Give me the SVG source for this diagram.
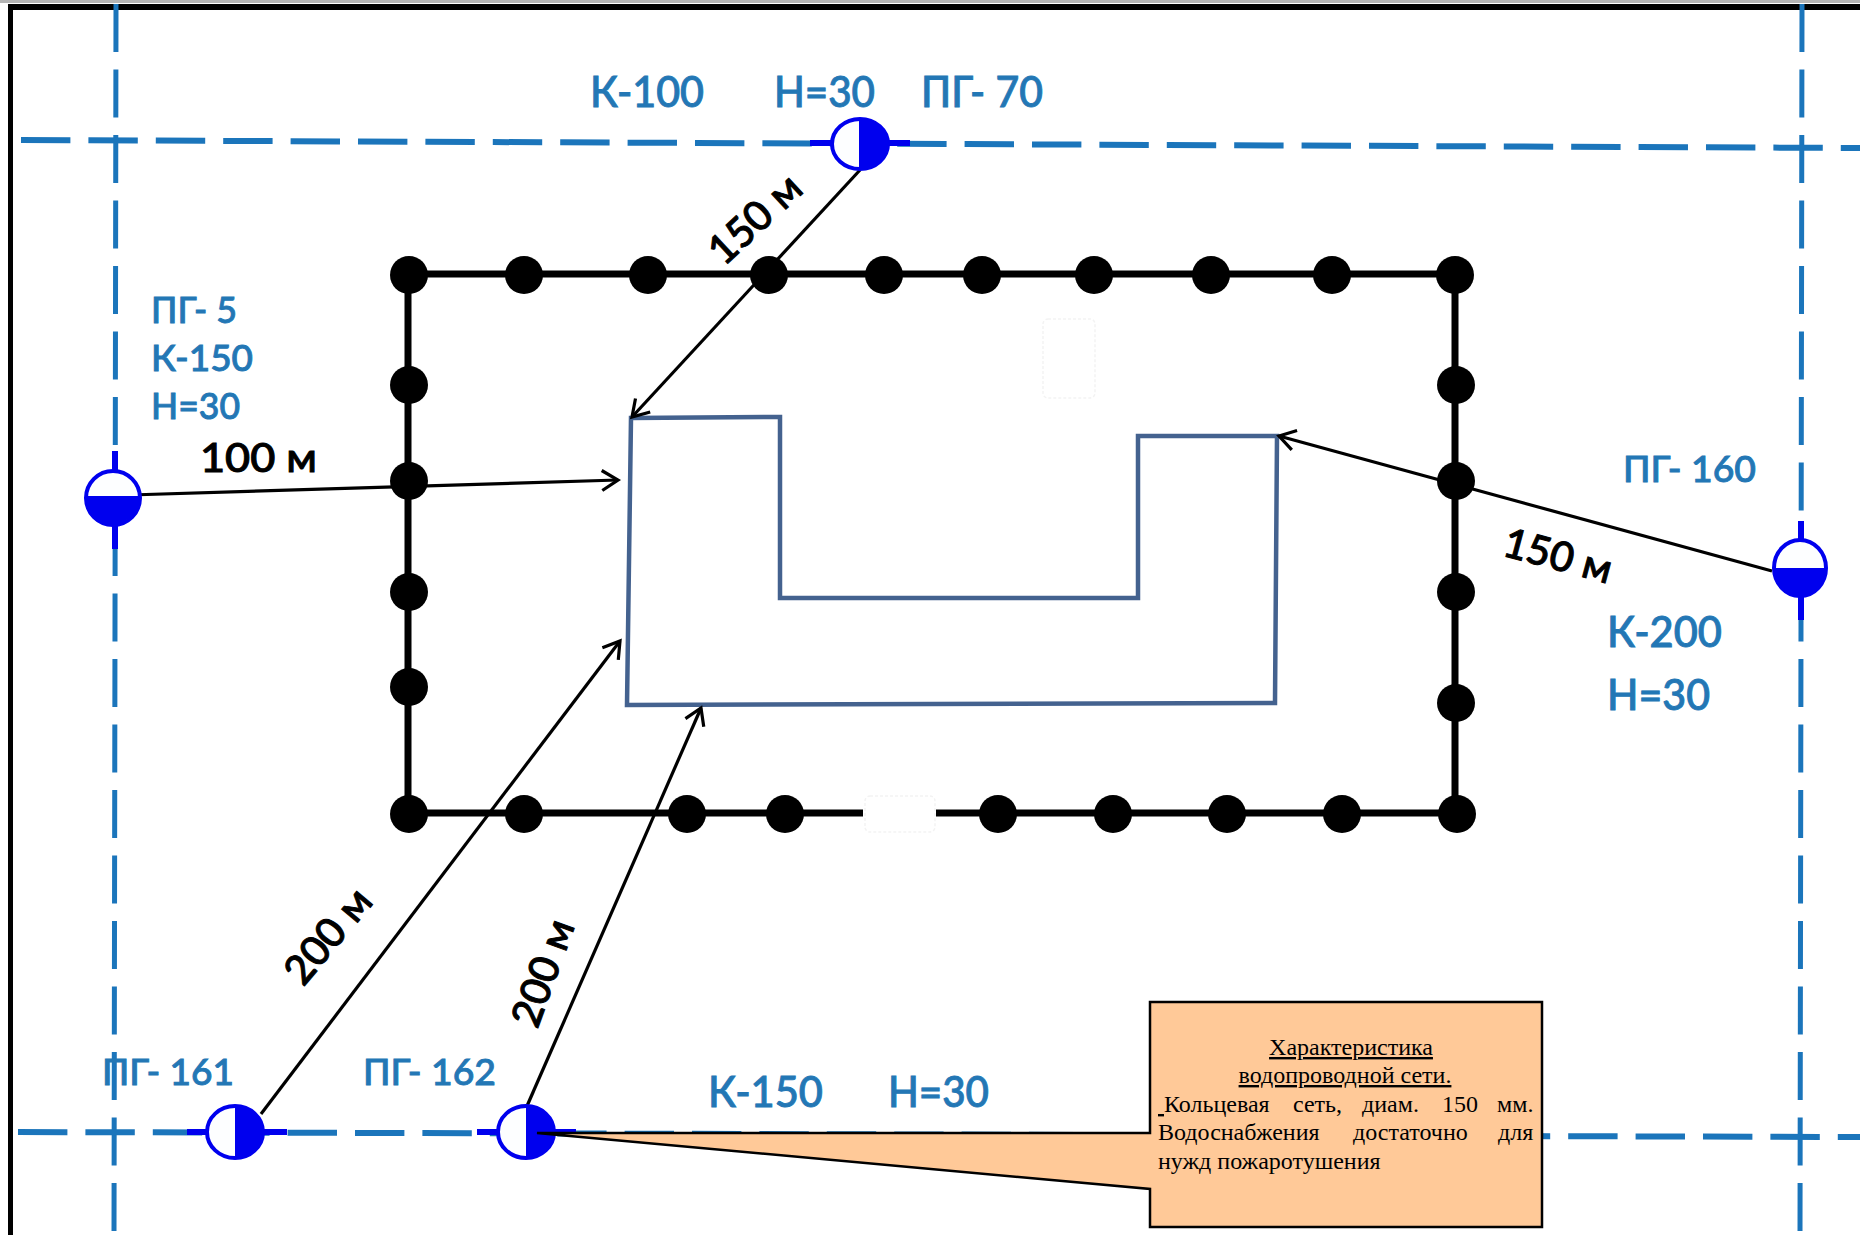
<svg xmlns="http://www.w3.org/2000/svg" width="1860" height="1235" viewBox="0 0 1860 1235">
<style>
.dash{fill:none;stroke:#1b75bb;stroke-width:6;stroke-dasharray:49.4 18}
.dashv{fill:none;stroke:#1b75bb;stroke-width:5;stroke-dasharray:48 17.5}
.ring{fill:none;stroke:#000;stroke-width:7}
.arr{fill:none;stroke:#000;stroke-width:3.2;marker-end:url(#open)}
.b{font-family:"Lato","Open Sans",sans-serif;font-size:42px;fill:#2377b5;stroke:#2377b5;stroke-width:.9;font-weight:500}
.s{font-size:37px}
.k{font-family:"Lato","Open Sans",sans-serif;font-size:41px;fill:#000;stroke:#000;stroke-width:1;font-weight:500}
.t{font-family:"Liberation Serif",serif;font-size:24px;fill:#000}
.u{text-decoration:underline}
.h0{fill:#fdfeff;stroke:#0000ee;stroke-width:4}
.h1{fill:#0000ee}
.n{stroke:#0000ee;stroke-width:6;fill:none}
.faint{fill:#fff;stroke:#f3f3f3;stroke-width:1.5;stroke-dasharray:3 2}
</style>
<defs>
<marker id="open" markerUnits="userSpaceOnUse" markerWidth="30" markerHeight="30" refX="20" refY="15" orient="auto" viewBox="0 0 30 30"><path d="M4,5 L20,15 L4,25" fill="none" stroke="#000" stroke-width="3.2"/></marker>
<circle id="dot" r="19" fill="#000"/>
</defs>
<rect width="1860" height="1235" fill="#fff"/>
<g id="frame"><rect x="0" y="0" width="1860" height="3" fill="#b5b5b5"/><rect x="8" y="4" width="1852" height="6" fill="#000"/><rect x="8" y="4" width="5" height="1231" fill="#000"/></g>
<g id="water-lines">
<path class="dashv" d="M116,4 L114,1235"/>
<path class="dashv" d="M1802,4 L1800,1235"/>
<path class="dash" d="M21,140 L1860,148"/>
<path class="dash" d="M18,1132 L1860,1137"/>
</g>
<g id="ring">
<path class="ring" d="M408,274 H1455 V813 H936 M863,813 H408 V274"/>
<rect class="faint" x="1043" y="319" width="52" height="79" rx="5"/>
<rect class="faint" x="865" y="796" width="70" height="36" rx="5"/>
<use href="#dot" x="409" y="275"/><use href="#dot" x="524" y="275"/><use href="#dot" x="648" y="275"/><use href="#dot" x="769" y="275"/><use href="#dot" x="884" y="275"/><use href="#dot" x="982" y="275"/><use href="#dot" x="1094" y="275"/><use href="#dot" x="1211" y="275"/><use href="#dot" x="1332" y="275"/><use href="#dot" x="1455" y="275"/>
<use href="#dot" x="409" y="385"/><use href="#dot" x="409" y="481"/><use href="#dot" x="409" y="592"/><use href="#dot" x="409" y="687"/><use href="#dot" x="409" y="814"/>
<use href="#dot" x="1456" y="385"/><use href="#dot" x="1456" y="481"/><use href="#dot" x="1456" y="592"/><use href="#dot" x="1456" y="703"/><use href="#dot" x="1457" y="814"/>
<use href="#dot" x="524" y="814"/><use href="#dot" x="687" y="814"/><use href="#dot" x="785" y="814"/><use href="#dot" x="998" y="814"/><use href="#dot" x="1113" y="814"/><use href="#dot" x="1227" y="814"/><use href="#dot" x="1342" y="814"/>
</g>
<g id="building"><path d="M631,418 L780,417 V598 H1138 V436 H1277 L1275,703 L627,705 Z" fill="#fff" stroke="#44628f" stroke-width="4.5"/></g>
<g id="connectors">
<path class="arr" d="M860,170 L632,417"/>
<path class="arr" d="M130,495 L618,480"/>
<path class="arr" d="M1772,571 L1279,436"/>
<path class="arr" d="M261,1114 L620,641"/>
<path class="arr" d="M527,1106 L701,708"/>
</g>
<g id="hydrant-top">
<path class="n" d="M810,143 H910"/><ellipse class="h0" cx="860" cy="144" rx="28" ry="25"/><path class="h1" d="M859,119 A28,25 0 0 1 859,169 Z"/>
<text class="b" x="590" y="107" textLength="114" lengthAdjust="spacingAndGlyphs">К-100</text>
<text class="b" x="774" y="107" textLength="101" lengthAdjust="spacingAndGlyphs">Н=30</text>
<text class="b" x="921" y="107" textLength="122" lengthAdjust="spacingAndGlyphs">ПГ- 70</text>
</g>
<g id="hydrant-left">
<path class="n" d="M115,451 V549"/><ellipse class="h0" cx="113" cy="498" rx="27" ry="27"/><path class="h1" d="M86,496 H140 A27,28 0 0 1 86,496 Z"/>
<text class="b s" x="151" y="323" textLength="86" lengthAdjust="spacingAndGlyphs">ПГ- 5</text>
<text class="b s" x="151" y="371" textLength="102" lengthAdjust="spacingAndGlyphs">К-150</text>
<text class="b s" x="151" y="419" textLength="89" lengthAdjust="spacingAndGlyphs">Н=30</text>
</g>
<g id="hydrant-right">
<path class="n" d="M1801,521 V620"/><ellipse class="h0" cx="1800" cy="568" rx="26" ry="28"/><path class="h1" d="M1774,568 H1826 A26,28 0 0 1 1774,568 Z"/>
<text class="b s" x="1623" y="482" textLength="133" lengthAdjust="spacingAndGlyphs">ПГ- 160</text>
<text class="b" x="1607" y="647" textLength="115" lengthAdjust="spacingAndGlyphs">К-200</text>
<text class="b" x="1607" y="710" textLength="103" lengthAdjust="spacingAndGlyphs">Н=30</text>
</g>
<g id="hydrant-161">
<path class="n" d="M187,1132 H287"/><ellipse class="h0" cx="235" cy="1132" rx="28" ry="26"/><path class="h1" d="M235,1106 A28,26 0 0 1 235,1158 Z"/>
<text class="b s" x="102" y="1085" textLength="132" lengthAdjust="spacingAndGlyphs">ПГ- 161</text>
</g>
<g id="hydrant-162">
<path class="n" d="M477,1132 H576"/><ellipse class="h0" cx="526" cy="1132" rx="28" ry="26"/><path class="h1" d="M526,1106 A28,26 0 0 1 526,1158 Z"/>
<text class="b s" x="363" y="1085" textLength="133" lengthAdjust="spacingAndGlyphs">ПГ- 162</text>
<text class="b" x="708" y="1107" textLength="115" lengthAdjust="spacingAndGlyphs">К-150</text>
<text class="b" x="888" y="1107" textLength="101" lengthAdjust="spacingAndGlyphs">Н=30</text>
</g>
<g id="distance-labels">
<text class="k" x="200" y="472" textLength="117" lengthAdjust="spacingAndGlyphs">100 м</text>
<text class="k" text-anchor="middle" transform="translate(755,219) rotate(-43)" y="14">150 м</text>
<text class="k" text-anchor="middle" transform="translate(1558,556) rotate(15)" y="14">150 м</text>
<text class="k" text-anchor="middle" transform="translate(328,936) rotate(-50)" y="14">200 м</text>
<text class="k" text-anchor="middle" transform="translate(543,973) rotate(-70)" y="14">200 м</text>
</g>
<g id="callout">
<path d="M1150,1002 H1542 V1227 H1150 V1189 L537,1133 H1150 Z" fill="#ffc998" stroke="#000" stroke-width="2.5"/>
<text class="t u" x="1351" y="1055" text-anchor="middle">Характеристика</text>
<text class="t u" x="1345" y="1083" text-anchor="middle">водопроводной сети.</text>
<text class="t u" x="1158" y="1112" xml:space="preserve">&#160;</text>
<text class="t" x="1164" y="1112">Кольцевая</text><text class="t" x="1293" y="1112">сеть,</text><text class="t" x="1362" y="1112">диам.</text><text class="t" x="1442" y="1112">150</text><text class="t" x="1497" y="1112">мм.</text>
<text class="t" x="1158" y="1140">Водоснабжения</text><text class="t" x="1353" y="1140">достаточно</text><text class="t" x="1498" y="1140">для</text>
<text class="t" x="1158" y="1169">нужд пожаротушения</text>
</g>
</svg>
